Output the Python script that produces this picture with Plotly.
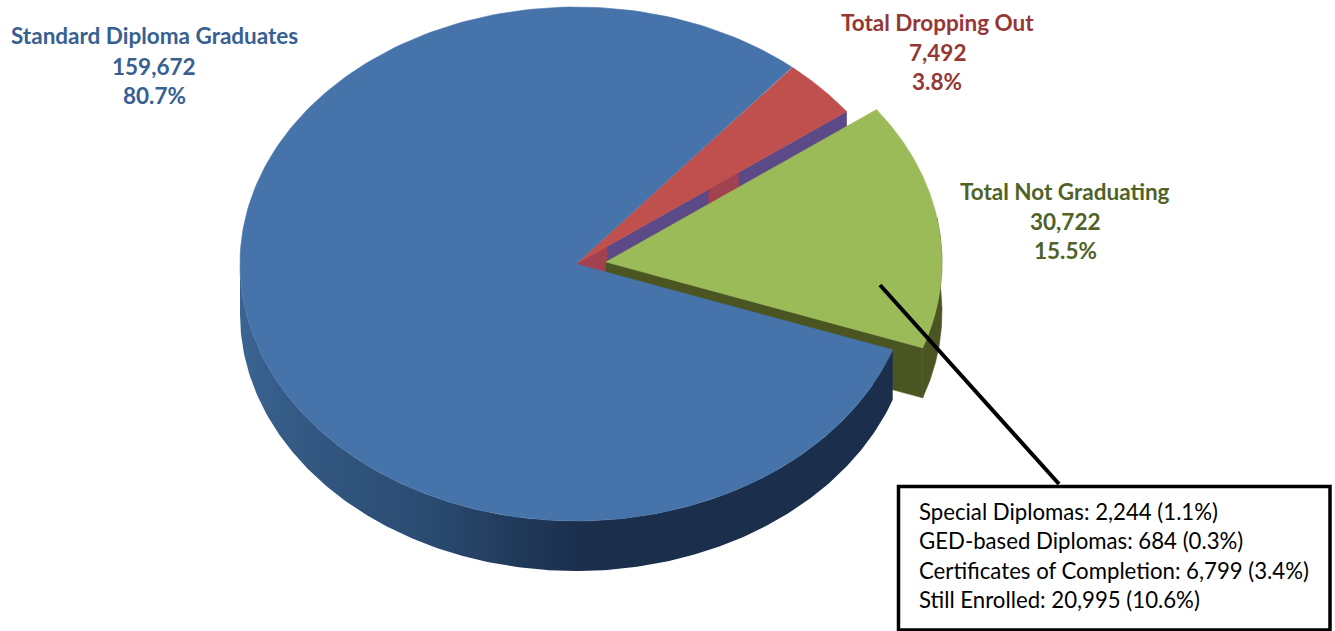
import numpy as np
import plotly.graph_objects as go

# ---- data ----
categories = ["Total Dropping Out", "Total Not Graduating", "Standard Diploma Graduates"]
values = [7492, 30722, 159672]
percents = ["3.8%", "15.5%", "80.7%"]
detail_categories = ["Special Diplomas", "GED-based Diplomas", "Certificates of Completion", "Still Enrolled"]
detail_values = [2244, 684, 6799, 20995]
detail_percents = ["1.1%", "0.3%", "3.4%", "10.6%"]

# ---- styles / geometry ----
W, H = 1335, 631
CX, CY, RX, RY, DEPTH = 576, 264, 336, 257, 50
GX, GY = 606, 262          # exploded slice centre
START = 40.0               # degrees clockwise from 12 o'clock
FONT = "Lato"

frac = np.array(values) / sum(values) * 360
a_red = (START, START + frac[0])
a_green = (a_red[1], a_red[1] + frac[1])
a_blue = (a_green[1], a_green[1] + frac[2])


def rim(cx, cy, t0, t1, n=240):
    t = np.radians(np.linspace(t0, t1, n))
    return cx + RX * np.sin(t), cy - RY * np.cos(t)


def wedge(cx, cy, t0, t1):
    x, y = rim(cx, cy, t0, t1)
    return np.r_[cx, x, cx], np.r_[cy, y, cy]


def wall(cx, cy, t0, t1):
    x, y = rim(cx, cy, t0, t1)
    return np.r_[x, x[::-1], x[0]], np.r_[y, y[::-1] + DEPTH, y[0]]


def cut(cx, cy, t, f0=0.0, f1=1.0):
    s, c = np.sin(np.radians(t)), np.cos(np.radians(t))
    x0, y0 = cx + f0 * RX * s, cy - f0 * RY * c
    x1, y1 = cx + f1 * RX * s, cy - f1 * RY * c
    return [x0, x1, x1, x0, x0], [y0, y1, y1 + DEPTH, y0 + DEPTH, y0]


fig = go.Figure()


def poly(xy, color=None, **kw):
    args = dict(x=xy[0], y=xy[1], mode="lines", fill="toself", line=dict(width=0),
                hoverinfo="skip", showlegend=False)
    if color:
        args["fillcolor"] = color
        args["line"] = dict(width=0.6, color=color)
    args.update(kw)
    fig.add_trace(go.Scatter(**args))


# red slice: inner wall, then top
poly(cut(CX, CY, a_red[1]), "#5c4a88")
poly(cut(CX, CY, a_red[1], 0, 0.115), "#a2414f")
poly(cut(CX, CY, a_red[1], 0.49, 0.60), "#a2414f")
poly(wedge(CX, CY, *a_red), "#c0504d")

# green slice: rim wall, cut face, top
poly(wall(GX, GY, 80, a_green[1]), "#4a5522")
poly(cut(GX, GY, a_green[1]), "#4a5522")
poly(wedge(GX, GY, *a_green), "#9bbb59")

# blue slice: rim wall with gradient, then top
poly(wall(CX, CY, a_green[1], 270), None, fillgradient=dict(
    type="horizontal",
    colorscale=[[0, "#3a6493"], [0.1, "#335882"], [0.28, "#2b4c72"],
                [0.42, "#213a5b"], [0.52, "#1b2f4d"], [1, "#1b2f4d"]]))
poly(wedge(CX, CY, *a_blue), "#4674aa")

# callout
fig.add_shape(type="line", x0=880, y0=285, x1=1059, y1=484, xref="x", yref="y",
              line=dict(color="black", width=4))
fig.add_shape(type="rect", x0=898.5, y0=486.5, x1=1330, y1=630, xref="x", yref="y",
              fillcolor="white", line=dict(color="black", width=3.5))


def label(x, y, text, color, size, anchor="center", bold=True):
    fig.add_annotation(x=x, y=y, xref="x", yref="y", text=f"<b>{text}</b>" if bold else text,
                       showarrow=False, xanchor=anchor, yanchor="middle",
                       font=dict(family=FONT, size=size, color=color))


label_pos = [(937, (22.5, 52.5, 81.5), "#953735"),
             (1065, (191.5, 221.5, 250.5), "#4f6228"),
             (154, (35.5, 66.5, 95.5), "#376092")]
for cat, val, pct, (x, ys, col) in zip(categories, values, percents, label_pos):
    for y, t in zip(ys, (cat, f"{val:,}", pct)):
        label(x, y, t, col, 22.5)

for i, (c, v, p) in enumerate(zip(detail_categories, detail_values, detail_percents)):
    label(917, 511.5 + 29.3 * i, f"{c}: {v:,} ({p})", "#000000", 22.2, anchor="left", bold=False)

fig.update_layout(
    width=W, height=H, margin=dict(l=0, r=0, t=0, b=0),
    paper_bgcolor="white", plot_bgcolor="white", showlegend=False,
    xaxis=dict(range=[0, W], visible=False, fixedrange=True),
    yaxis=dict(range=[H, 0], visible=False, fixedrange=True),
)
fig.write_html("out.html", config={"displayModeBar": False},
               post_script="document.body.style.margin='0';document.body.style.overflow='hidden';")
